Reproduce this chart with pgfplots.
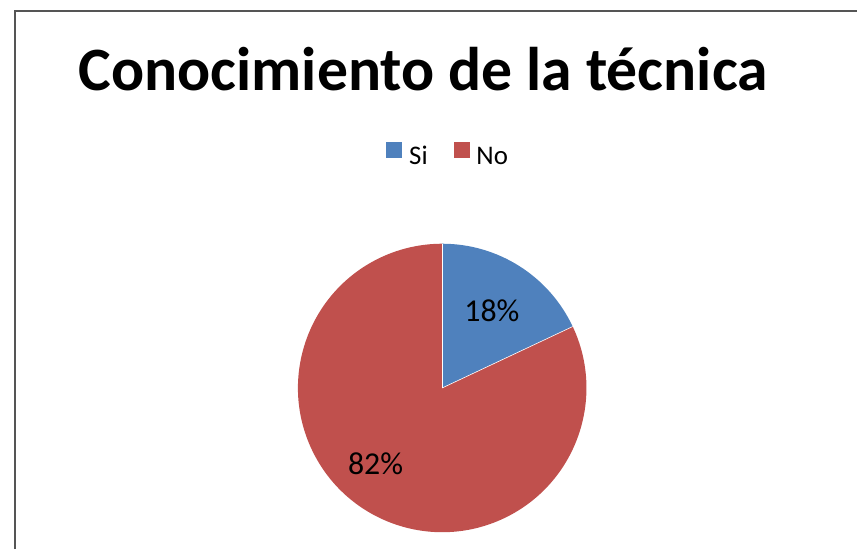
\documentclass[border=0pt]{standalone}
\usepackage{fontspec}
\setmainfont{Carlito}
\usepackage{pgfplots}
\usepackage{pgfplotstable}
\pgfplotsset{compat=1.18}

\definecolor{sib}{HTML}{4F81BD}
\definecolor{nob}{HTML}{C0504D}
\definecolor{frame}{HTML}{555555}

\pgfplotstableread{
label value
Si 18
No 82
}\piedata

\begin{document}
\pgfplotstablegetelem{0}{value}\of\piedata \let\vSi\pgfplotsretval
\pgfplotstablegetelem{1}{value}\of\piedata \let\vNo\pgfplotsretval
\pgfmathsetmacro\aSi{90-3.6*\vSi}
\pgfmathsetmacro\aNo{\aSi-3.6*\vNo}
\begin{tikzpicture}
\begin{axis}[
    x=1pt, y=1pt,
    xmin=0, xmax=857, ymin=0, ymax=552,
    hide axis,
    legend columns=2,
    legend style={draw=none, fill=none, at={(axis cs:446,396)}, anchor=center,
        font=\fontsize{27}{32}\selectfont,
        /tikz/every even column/.append style={column sep=24pt}},
    legend image code/.code={\fill[#1, draw=none] (0pt,-2pt) rectangle (16pt,14pt); \path[draw=none] (21pt,0pt);},
]
% pie slices, angles taken from the table
\fill[sib] (axis cs:440,162) -- ++(90:145pt) arc[start angle=90, end angle=\aSi, radius=145pt] -- cycle;
\fill[nob] (axis cs:440,162) -- ++(\aSi:145pt) arc[start angle=\aSi, end angle=\aNo, radius=145pt] -- cycle;
\draw[white, line width=0.6pt] (axis cs:440,162) -- ++(90:145pt);
\draw[white, line width=0.6pt] (axis cs:440,162) -- ++(\aSi:145pt);

\addlegendimage{sib}
\addlegendentry{Si}
\addlegendimage{nob}
\addlegendentry{No}

% data labels
\node[font=\fontsize{32}{38}\selectfont] at (axis cs:490,240) {\vSi\%};
\node[font=\fontsize{32}{38}\selectfont] at (axis cs:373,86) {\vNo\%};

% title
\node[anchor=base, font=\fontsize{62}{74}\selectfont\bfseries] at (axis cs:421,461) {Conocimiento de la técnica};

% chart frame (cut at right and bottom)
\draw[frame, line width=2pt] (axis cs:11,0) -- (axis cs:11,541) -- (axis cs:857,541);

\coordinate (ll) at (axis cs:0,0);
\coordinate (ur) at (axis cs:857,552);
\end{axis}
\pgfresetboundingbox
\path (ll) rectangle (ur);
\end{tikzpicture}
\end{document}
